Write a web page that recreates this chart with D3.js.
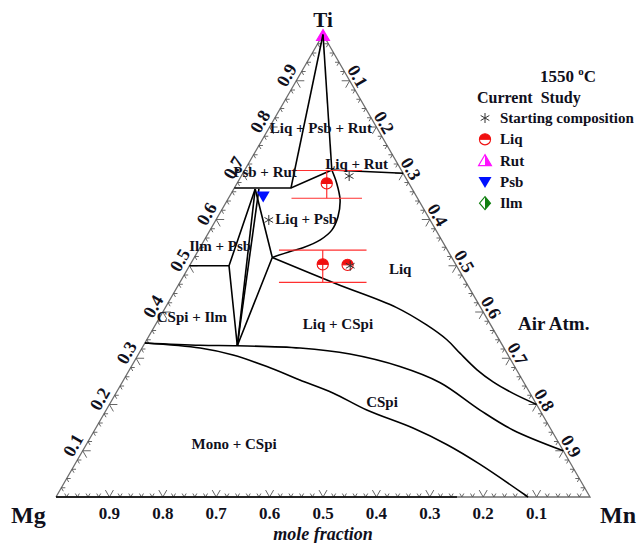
<!DOCTYPE html>
<html>
<head>
<meta charset="utf-8">
<script src="https://cdn.jsdelivr.net/npm/d3@7"></script>
<style>
  body { margin: 0; background: #fff; }
  text { font-family: "Liberation Serif", "Times New Roman", serif; font-weight: bold; fill: #10101c; }
</style>
</head>
<body>
<div id="chart"></div>
<script>
// DATA: every composition is [Ti, Mn] mole fraction, Mg = 1 - Ti - Mn
const majorTicks = [0.1, 0.2, 0.3, 0.4, 0.5, 0.6, 0.7, 0.8, 0.9];

// phase boundaries
const bTiLeft   = [[1, 0], [0.668, 0.106]];
const bTiRight  = [[1, 0], [0.707, 0.163]];
const bPsbRut   = [[0.668, 0], [0.668, 0.106], [0.707, 0.163]];
const bLiqRut   = [[0.707, 0.163], [0.700, 0.300]];
const bLiqPsb   = [[0.707, 0.163], [0.679, 0.186], [0.642, 0.211], [0.606, 0.225], [0.577, 0.228],
                   [0.556, 0.217], [0.539, 0.193], [0.531, 0.173], [0.518, 0.146]];
const bLiqCspi  = [[0.518, 0.146], [0.461, 0.294], [0.410, 0.432], [0.372, 0.508], [0.340, 0.562],
                   [0.311, 0.601], [0.275, 0.651], [0.249, 0.694], [0.224, 0.744], [0.200, 0.800]];
const bCspiTop  = [[0.333, 0], [0.328, 0.106], [0.327, 0.176], [0.322, 0.296], [0.309, 0.396],
                   [0.282, 0.503], [0.247, 0.596], [0.188, 0.700], [0.145, 0.783], [0.100, 0.900]];
const bCspiLow  = [[0.333, 0], [0.322, 0.109], [0.307, 0.178], [0.282, 0.254], [0.253, 0.330],
                   [0.225, 0.406], [0.188, 0.488], [0.149, 0.594], [0.113, 0.676], [0.071, 0.758], [0, 0.884]];
const bIlmPsb   = [[0.500, 0], [0.500, 0.074]];
const bWedge    = [
  [[0.666, 0.040], [0.500, 0.074], [0.327, 0.176]],
  [[0.666, 0.040], [0.327, 0.176]],
  [[0.666, 0.047], [0.327, 0.176]],
  [[0.327, 0.176], [0.518, 0.146], [0.666, 0.040]]
];
const bBase     = [[0, 0], [0, 0.751]];

// experimental points
const liqPoints     = [[0.678, 0.168], [0.503, 0.248], [0.502, 0.295]];
const liqTiErrPlus  = [0.028, 0.031, 0];
const liqTiErrMinus = [0.032, 0.039, 0];
const liqMnErr      = [0.066, 0.082, 0];
const startPoints   = [[0.694, 0.202], [0.500, 0.301], [0.599, 0.099]];
const rutPoints     = [[1, 0]];
const psbPoints     = [[0.650, 0.063]];

const legendNames = ["Starting composition", "Liq", "Rut", "Psb", "Ilm"];
const legendKinds = ["star", "liq", "rut", "psb", "ilm"];

// SETUP
const W = 640, H = 543;
const svg = d3.select("#chart").append("svg")
    .attr("width", W).attr("height", H)
    .style("background", "#fff");

const S3 = Math.sqrt(3) / 2;
const x = d3.scaleLinear().domain([0, 1]).range([56, 590]);
const y = d3.scaleLinear().domain([0, S3]).range([497, 34.5]);
const px = d => x(d[1] + d[0] / 2);
const py = d => y(d[0] * S3);

const straight = d3.line().x(px).y(py);
const smooth = d3.line().x(px).y(py).curve(d3.curveCatmullRom.alpha(0.5));

// 1: AXES (triangle)
svg.append("path")
    .attr("d", straight([[0, 0], [0, 1], [1, 0], [0, 0]]))
    .attr("fill", "none").attr("stroke", "#6e6e6e").attr("stroke-width", 1.3);

// 2: TICKS
const minorTicks = d3.range(1, 50).map(i => i / 50).filter(v => Math.round(v * 50) % 5 !== 0);
const axes = [
  { pos: v => [0, 1 - v], arms: [[-0.5, -S3], [0.5, -S3]] },   // bottom: Mg fraction
  { pos: v => [v, 0],     arms: [[1, 0], [0.5, S3]] },         // left: Ti fraction
  { pos: v => [1 - v, v], arms: [[-1, 0], [-0.5, S3]] }        // right: Mn fraction
];
const tickG = svg.append("g").attr("stroke", "#555").attr("stroke-width", 0.9).attr("fill", "none");
axes.forEach(a => {
  [[majorTicks, 8], [minorTicks, 4]].forEach(([vals, len]) => {
    vals.forEach(v => {
      const c = a.pos(v), cx = px(c), cy = py(c);
      a.arms.forEach(([dx, dy]) => {
        tickG.append("line")
          .attr("x1", cx).attr("y1", cy)
          .attr("x2", cx + dx * len).attr("y2", cy + dy * len);
      });
    });
  });
});

// 2.a: tick labels
const fmt = d3.format(".1f");
majorTicks.forEach(v => {
  const b = axes[0].pos(v);
  svg.append("text").attr("x", px(b)).attr("y", 519)
    .attr("text-anchor", "middle").style("font-size", "17px").text(fmt(v));
  const l = axes[1].pos(v), lx = px(l) - 11 * S3, ly = py(l) - 11 * 0.5;
  svg.append("text").attr("transform", `translate(${lx},${ly}) rotate(-60)`)
    .attr("text-anchor", "middle").attr("dominant-baseline", "central")
    .style("font-size", "18px").text(fmt(v));
  const r = axes[2].pos(v), rx = px(r) + 9 * S3, ry = py(r) - 9 * 0.5;
  svg.append("text").attr("transform", `translate(${rx},${ry}) rotate(60)`)
    .attr("text-anchor", "middle").attr("dominant-baseline", "central")
    .style("font-size", "18px").text(fmt(v));
});

// 3: MARKERS behind lines (Rut at Ti corner)
function symbol(g, kind, cx, cy) {
  const s = g.append("g").attr("transform", `translate(${cx},${cy})`);
  if (kind === "star") {
    [90, 30, 150].forEach(a => {
      const r = 5, t = a * Math.PI / 180;
      s.append("line").attr("x1", -r * Math.cos(t)).attr("y1", -r * Math.sin(t))
        .attr("x2", r * Math.cos(t)).attr("y2", r * Math.sin(t))
        .attr("stroke", "#333").attr("stroke-width", 1);
    });
  } else if (kind === "liq") {
    const r = 5.6;
    s.append("circle").attr("r", r).attr("fill", "#fff").attr("stroke", "#f01010").attr("stroke-width", 1.1);
    s.append("path").attr("d", `M${-r},0 A${r},${r} 0 0 1 ${r},0 Z`).attr("fill", "#f01010");
    s.append("line").attr("x1", -r).attr("x2", r).attr("stroke", "#f01010").attr("stroke-width", 1.1);
  } else if (kind === "rut" || kind === "rutFull") {
    s.append("path").attr("d", "M0,-6L6.5,5H-6.5Z").attr("fill", kind === "rut" ? "#fff" : "#ff10ff")
      .attr("stroke", "#ff10ff").attr("stroke-width", 1.1);
    s.append("path").attr("d", "M0,-6L6.5,5H0Z").attr("fill", "#ff10ff");
  } else if (kind === "psb") {
    s.append("path").attr("d", "M-6.5,-5H6.5L0,6Z").attr("fill", "#0010ff");
  } else if (kind === "ilm") {
    s.append("path").attr("d", "M0,-6.5L5.5,0L0,6.5L-5.5,0Z").attr("fill", "#fff")
      .attr("stroke", "#108010").attr("stroke-width", 1.1);
    s.append("path").attr("d", "M0,-6.5L5.5,0L0,6.5Z").attr("fill", "#108010");
  }
}
const markG = svg.append("g");
rutPoints.forEach(d => symbol(markG, "rutFull", px(d), py(d) + 1));

// 4: PHASE BOUNDARIES
const lineG = svg.append("g").attr("fill", "none").attr("stroke", "#000").attr("stroke-width", 1.6);
[bTiLeft, bTiRight, bPsbRut, bLiqRut, bIlmPsb, bBase].concat(bWedge)
  .forEach(d => lineG.append("path").attr("d", straight(d)));
[bLiqPsb, bLiqCspi, bCspiTop, bCspiLow]
  .forEach(d => lineG.append("path").attr("d", smooth(d)));

// 5: ERROR BARS (vertical in Ti, caps drawn horizontally)
const errG = svg.append("g").attr("stroke", "#ff3030").attr("stroke-width", 1.2);
liqPoints.forEach((d, i) => {
  if (!liqTiErrPlus[i]) return;
  const top = [d[0] + liqTiErrPlus[i], d[1] - liqTiErrPlus[i] / 2];
  const bot = [d[0] - liqTiErrMinus[i], d[1] + liqTiErrMinus[i] / 2];
  errG.append("line").attr("x1", px(top)).attr("y1", py(top)).attr("x2", px(bot)).attr("y2", py(bot));
  [top, bot].forEach(c => {
    const a = [c[0], c[1] - liqMnErr[i]], b = [c[0], c[1] + liqMnErr[i]];
    errG.append("line").attr("x1", px(a)).attr("y1", py(a)).attr("x2", px(b)).attr("y2", py(b));
  });
});

// 6: MARKERS
const topG = svg.append("g");
liqPoints.forEach(d => symbol(topG, "liq", px(d), py(d)));
liqPoints.forEach((d, i) => {
  if (!liqTiErrPlus[i]) return;
  topG.append("line").attr("x1", px(d)).attr("x2", px(d))
    .attr("y1", py(d) - 5.6).attr("y2", py(d) + 5.6)
    .attr("stroke", "#f01010").attr("stroke-width", 1.1);
});
psbPoints.forEach(d => symbol(topG, "psb", px(d), py(d)));
startPoints.forEach(d => symbol(topG, "star", px(d), py(d)));

// 7: PHASE LABELS
const phaseLabels = [
  ["Liq + Psb + Rut", [0.798, 0.097]], ["Psb + Rut", [0.703, 0.040]], ["Liq + Rut", [0.720, 0.203]],
  ["Liq + Psb", [0.601, 0.168]], ["Ilm + Psb", [0.543, 0.036]], ["Liq", [0.493, 0.398]],
  ["CSpi + Ilm", [0.389, 0.060]], ["Liq + CSpi", [0.374, 0.341]], ["CSpi", [0.205, 0.508]],
  ["Mono + CSpi", [0.115, 0.276]]
];
phaseLabels.forEach(([t, c]) => {
  svg.append("text").attr("x", px(c)).attr("y", py(c))
    .attr("text-anchor", "middle").attr("dominant-baseline", "central")
    .style("font-size", "15px").text(t);
});

// 8: CORNER AND TITLES
svg.append("text").attr("x", px([1, 0])).attr("y", 27).attr("text-anchor", "middle")
  .style("font-size", "21px").text("Ti");
svg.append("text").attr("x", 11).attr("y", 523).style("font-size", "24px").text("Mg");
svg.append("text").attr("x", 600).attr("y", 523).style("font-size", "24px").text("Mn");
svg.append("text").attr("x", 323).attr("y", 540).attr("text-anchor", "middle")
  .style("font-size", "18px").style("font-style", "italic").text("mole fraction");
svg.append("text").attr("x", 518).attr("y", 330).style("font-size", "19px").text("Air Atm.");

const temp = svg.append("text").attr("x", 540).attr("y", 82).style("font-size", "17px");
temp.append("tspan").text("1550 ");
temp.append("tspan").attr("dy", -7).style("font-size", "11px").text("o");
temp.append("tspan").attr("dy", 7).text("C");

// 9: LEGEND
svg.append("text").attr("x", 477).attr("y", 103).style("font-size", "16px")
  .text("Current\u00a0\u00a0Study");
const legG = svg.append("g");
legendNames.forEach((n, i) => {
  const ly = 118 + i * 21.3;
  symbol(legG, legendKinds[i], 485, ly);
  legG.append("text").attr("x", 500).attr("y", ly).attr("dominant-baseline", "central")
    .style("font-size", "15px").text(n);
});
</script>
</body>
</html>
